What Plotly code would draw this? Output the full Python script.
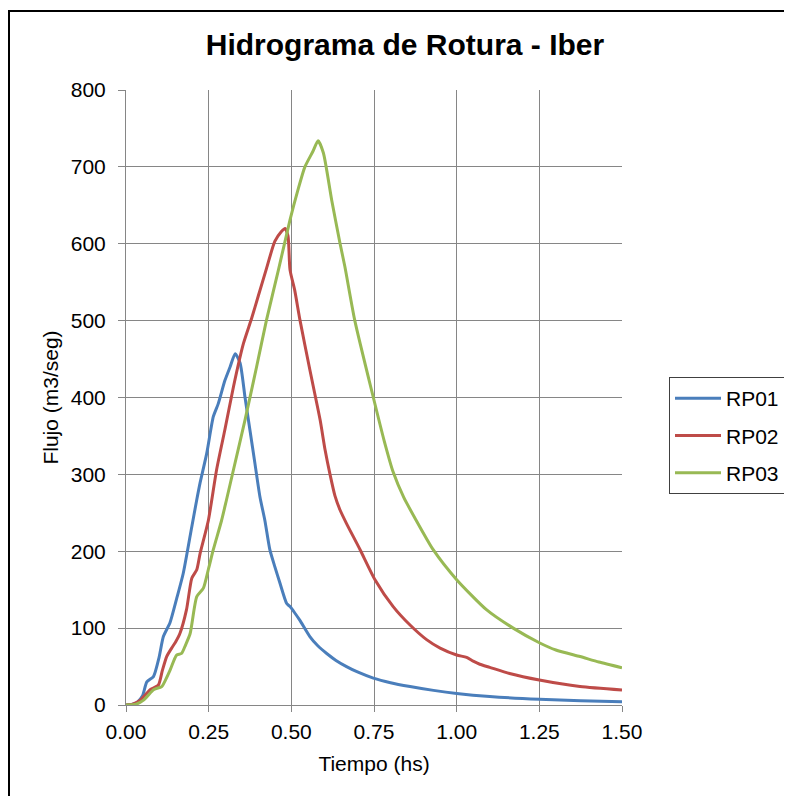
import plotly.graph_objects as go

# ---- data ----
t_rp01 = [0, 0.02, 0.035, 0.05, 0.063, 0.083, 0.1, 0.113, 0.133, 0.153, 0.173, 0.199, 0.214, 0.224,
          0.244, 0.264, 0.279, 0.299, 0.315, 0.330, 0.345, 0.36, 0.375, 0.39, 0.405, 0.42, 0.435, 0.45,
          0.466, 0.486, 0.496, 0.51, 0.526, 0.556, 0.58, 0.607, 0.635, 0.667, 0.7, 0.748, 0.8, 0.859,
          0.93, 1.0, 1.1, 1.25, 1.375, 1.5]
q_rp01 = [0, 1, 4, 12, 30, 37, 62, 89, 107, 138, 171, 232, 267, 289,
          327, 375, 392, 422, 440, 457, 445, 400, 357, 314, 271, 240, 202, 180,
          158, 132, 128, 120, 110, 89, 77, 67, 58, 50, 43, 35, 29, 24,
          19, 15, 11, 7.4, 5.5, 4.3]

t_rp02 = [0, 0.02, 0.042, 0.06, 0.073, 0.098, 0.11, 0.123, 0.138, 0.15, 0.163, 0.183, 0.199, 0.214,
          0.224, 0.249, 0.274, 0.299, 0.325, 0.355, 0.38, 0.40, 0.425, 0.45, 0.47, 0.481, 0.49, 0.496,
          0.51, 0.526, 0.556, 0.587, 0.602, 0.617, 0.632, 0.647, 0.667, 0.708, 0.753, 0.808, 0.859,
          0.909, 0.95, 1.0, 1.03, 1.05, 1.07, 1.1, 1.16, 1.25, 1.373, 1.5]
q_rp02 = [0, 1, 6, 14, 20, 26, 45, 63, 74, 82, 93, 124, 165, 176,
          197, 240, 306, 358, 414, 470, 503, 532, 568, 603, 616, 620, 610, 566,
          540, 501, 436, 371, 332, 300, 272, 254, 236, 202, 163, 128, 104,
          85, 74, 65, 62, 57, 53, 49, 41, 32.5, 24, 19.5]

t_rp03 = [0, 0.03, 0.052, 0.07, 0.083, 0.108, 0.12, 0.133, 0.153, 0.168, 0.18, 0.194, 0.214, 0.234,
          0.25, 0.264, 0.289, 0.304, 0.325, 0.36, 0.395, 0.425, 0.461, 0.496, 0.52, 0.541, 0.565,
          0.581, 0.597, 0.622, 0.647, 0.662, 0.692, 0.748, 0.78, 0.808, 0.84, 0.874, 0.929, 1.0, 1.09,
          1.171, 1.25, 1.30, 1.373, 1.43, 1.5]
q_rp03 = [0, 1, 6, 14, 20, 24, 33, 45, 65, 67, 78, 93, 141, 152,
          178, 202, 240, 267, 306, 371, 440, 501, 566, 631, 670, 700, 720,
          734, 718, 657, 601, 570, 500, 400, 345, 303, 270, 243, 202, 163, 124,
          100, 81, 71.5, 63, 56, 48.5]

series_names = ["RP01", "RP02", "RP03"]
series_colors = ["#4A7EBB", "#BE4B48", "#98B954"]
x_ticks = [0, 0.25, 0.5, 0.75, 1.0, 1.25, 1.5]
y_ticks = [0, 100, 200, 300, 400, 500, 600, 700, 800]

FONT = "Arial, Liberation Sans, sans-serif"
GRID = "#868686"

fig = go.Figure()
for name, t, q, c in zip(series_names, [t_rp01, t_rp02, t_rp03], [q_rp01, q_rp02, q_rp03], series_colors):
    fig.add_trace(go.Scatter(x=t, y=q, mode="lines", name=name, legendgroup=name,
                             line=dict(color=c, width=3, shape="spline", smoothing=0.6)))

# the page body has an 8px margin: target page coordinates are converted to figure coordinates
OFF = 8
W, H = 792, 796
L, R, T, B = 126 - OFF, 622 - OFF, 90 - OFF, 705 - OFF

def px(x_page):
    return (x_page - OFF - L) / (R - L)

def py(y_page):
    return (B - (y_page - OFF)) / (B - T)

fig.update_layout(
    width=W, height=H,
    margin=dict(l=L, r=W - R, t=T, b=H - B),
    paper_bgcolor="white", plot_bgcolor="white",
    font=dict(family=FONT, size=21, color="#000000"),
    title=dict(text="<b>Hidrograma de Rotura - Iber</b>", x=px(405), xref="paper", xanchor="center",
               y=1 - (44 - OFF) / H, yanchor="middle", font=dict(size=30, family=FONT, color="#000000")),
    showlegend=True,
    legend=dict(x=px(669), y=py(377), xanchor="left", yanchor="top",
                bordercolor="#404040", borderwidth=1, bgcolor="white",
                font=dict(size=21, family=FONT), tracegroupgap=7,
                itemwidth=46),
    xaxis=dict(range=[0, 1.5], tickvals=x_ticks, tickformat=".2f",
               showgrid=True, gridcolor=GRID, gridwidth=1,
               showline=True, linecolor=GRID, linewidth=1,
               ticks="outside", ticklen=6, tickcolor=GRID,
               zeroline=False, ticklabelstandoff=2, automargin=False,
               title=dict(text="Tiempo (hs)", font=dict(size=21), standoff=14)),
    yaxis=dict(range=[0, 800], tickvals=y_ticks,
               showgrid=True, gridcolor=GRID, gridwidth=1,
               showline=True, linecolor=GRID, linewidth=1,
               ticks="outside", ticklen=7, tickcolor=GRID,
               zeroline=False, ticklabelstandoff=8, automargin=False,
               title=dict(text="Flujo (m3/seg)", font=dict(size=21), standoff=6)),
    shapes=[dict(type="rect", xref="paper", yref="paper",
                 x0=px(OFF + 1), x1=px(805), y0=py(805), y1=py(11),
                 line=dict(color="#000000", width=2), fillcolor="rgba(0,0,0,0)", layer="above")],
)

fig.write_html("out.html")
